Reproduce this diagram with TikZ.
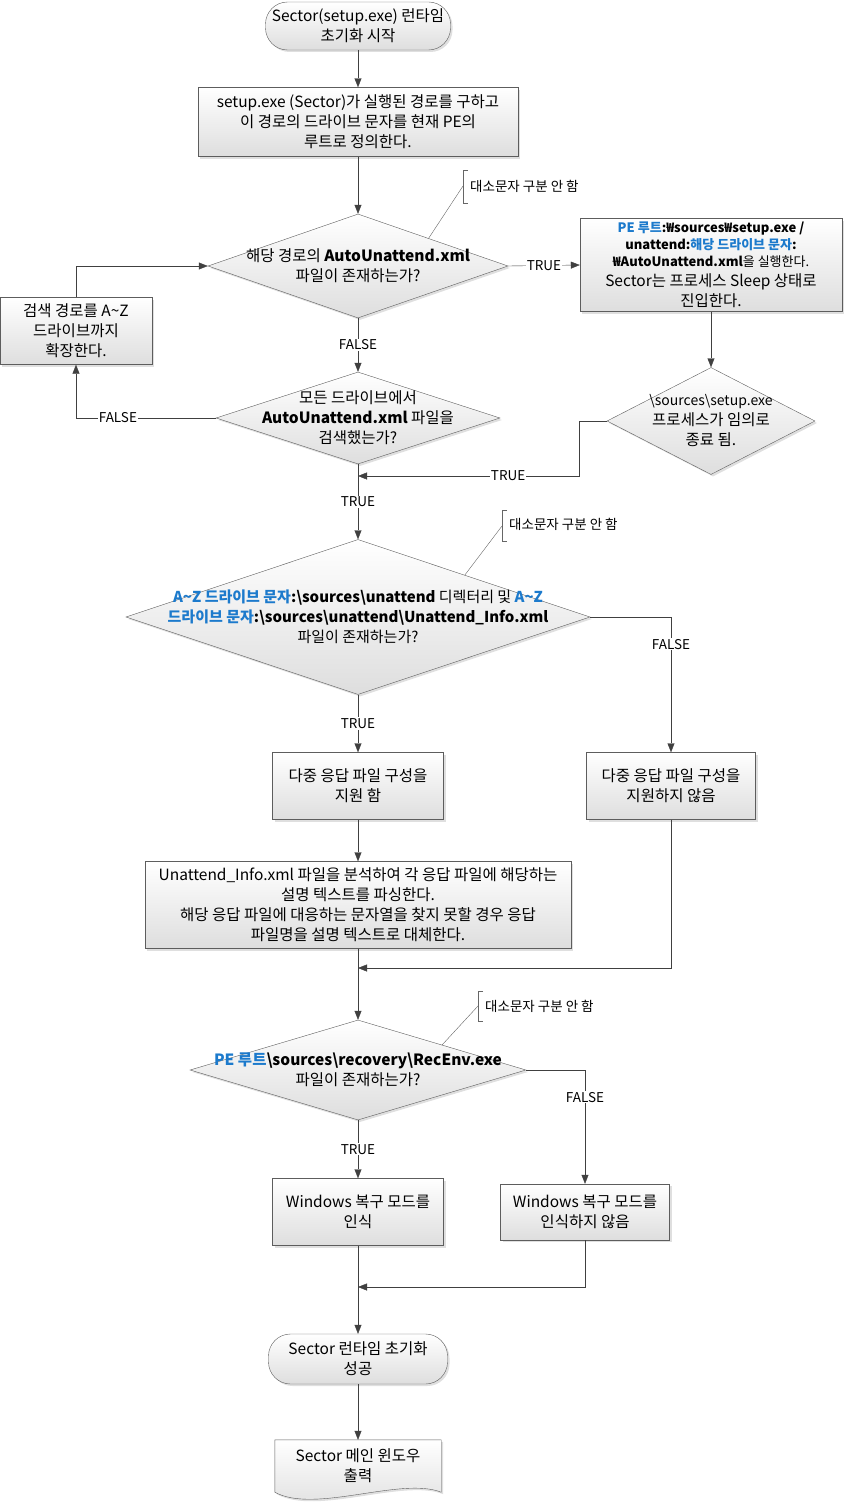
\documentclass[tikz,border=0pt]{standalone}
\usepackage{fontspec}
\setmainfont{Noto Sans CJK KR}
\usepackage{xcolor}
\usepackage{tikz}
\usetikzlibrary{shapes.geometric, arrows.meta, positioning, shadows, calc, backgrounds}
\definecolor{keyblue}{RGB}{28,122,204}
\definecolor{lineg}{RGB}{64,64,64}
\newcommand{\smb}{\fontsize{13}{16}\selectfont\bfseries}
\newcommand{\bs}{\textbackslash}

\tikzset{
  base/.style={draw=lineg!85, top color=white, bottom color=black!13,
    drop shadow={shadow xshift=2pt, shadow yshift=-2pt, opacity=0.25},
    font=\fontsize{15.5}{20}\selectfont, align=center},
  procbox/.style={base, rectangle, inner sep=2pt},
  termbox/.style={base, rectangle, rounded corners=22pt},
  decbox/.style={base, diamond, inner sep=0pt},
  dtext/.style={font=\fontsize{15.5}{20}\selectfont, align=center, inner sep=0pt},
  lbl/.style={fill=white, inner sep=1pt, font=\fontsize{13.5}{15}\selectfont},
  note/.style={font=\fontsize{13.5}{15}\selectfont, anchor=west, inner sep=1pt},
  flow/.style={draw=lineg, -{Triangle[length=9pt,width=7pt]}},
}

\begin{document}
\begin{tikzpicture}[x=1pt, y=-1pt]
\useasboundingbox (0,0) rectangle (844,1504);

% Boxes
\node[termbox, minimum width=185pt, minimum height=48pt] (start) at (358,26) {Sector(setup.exe) 런타임\\초기화 시작};
\node[procbox, minimum width=320pt, minimum height=69pt] (setpath) at (358,122) {setup.exe (Sector)가 실행된 경로를 구하고\\이 경로의 드라이브 문자를 현재 PE의\\루트로 정의한다.};

\node[decbox, minimum width=300pt, minimum height=104pt] (d1) at (358,266) {};
\node[dtext] (d1t) at (d1) {해당 경로의 \textbf{AutoUnattend.xml}\\파일이 존재하는가?};

\node[procbox, minimum width=262pt, minimum height=93pt] (runbox) at (711,265)
  {\smb\textcolor{keyblue}{PE 루트}:₩sources₩setup.exe /\\[-3pt]
   \smb unattend:\textcolor{keyblue}{해당 드라이브 문자}:\\[-3pt]
   \smb ₩AutoUnattend.xml{\mdseries 을 실행한다.}\\
   Sector는 프로세스 Sleep 상태로\\진입한다.};

\node[procbox, minimum width=152pt, minimum height=67pt] (extbox) at (76,331) {검색 경로를 A\textasciitilde Z\\드라이브까지\\확장한다.};

\node[decbox, minimum width=284pt, minimum height=92pt] (d2) at (358,418) {};
\node[dtext] (d2t) at (d2) {모든 드라이브에서\\\textbf{AutoUnattend.xml} 파일을\\검색했는가?};

\node[decbox, minimum width=208pt, minimum height=107pt] (d3) at (711,421) {};
\node[dtext] (d3t) at (d3) {{\fontsize{14}{16}\selectfont\bs sources\bs setup.exe}\\프로세스가 임의로\\종료 됨.};

\node[decbox, minimum width=464pt, minimum height=155pt] (d4) at (358,617) {};
\node[dtext, font=\fontsize{15}{20}\selectfont] (d4t) at (d4)
  {\textbf{\textcolor{keyblue}{A\textasciitilde Z 드라이브 문자}:\bs sources\bs unattend} 디렉터리 및 \textbf{\textcolor{keyblue}{A\textasciitilde Z}}\\
   \textbf{\textcolor{keyblue}{드라이브 문자}:\bs sources\bs unattend\bs Unattend\_Info.xml}\\
   파일이 존재하는가?};

\node[procbox, minimum width=171pt, minimum height=67pt] (multi) at (358,786) {다중 응답 파일 구성을\\지원 함};
\node[procbox, minimum width=169pt, minimum height=67pt] (nomulti) at (671,786) {다중 응답 파일 구성을\\지원하지 않음};

\node[procbox, minimum width=426pt, minimum height=87pt] (parse) at (358,905)
  {Unattend\_Info.xml 파일을 분석하여 각 응답 파일에 해당하는\\설명 텍스트를 파싱한다.\\해당 응답 파일에 대응하는 문자열을 찾지 못할 경우 응답\\파일명을 설명 텍스트로 대체한다.};

\node[decbox, minimum width=336pt, minimum height=100pt] (d5) at (358,1070) {};
\node[dtext] (d5t) at (d5) {\textbf{\textcolor{keyblue}{PE 루트}\bs sources\bs recovery\bs RecEnv.exe}\\파일이 존재하는가?};

\node[procbox, minimum width=171pt, minimum height=67pt] (rec) at (358,1212) {Windows 복구 모드를\\인식};
\node[procbox, minimum width=169pt, minimum height=56pt] (norec) at (585,1212) {Windows 복구 모드를\\인식하지 않음};

\node[termbox, minimum width=179pt, minimum height=50pt] (finish) at (358,1359) {Sector 런타임 초기화\\성공};

% Document shape
\node[dtext, minimum width=166pt, minimum height=52pt] (doc) at (358,1466) {Sector 메인 윈도우\\출력};
\begin{scope}[on background layer]
  \path[draw=lineg!85, top color=white, bottom color=black!13,
    drop shadow={shadow xshift=2pt, shadow yshift=-2pt, opacity=0.25}]
    (doc.north west) -- (doc.north east) -- (doc.south east)
    .. controls +(-40,-16) and +(40,22) .. (doc.south west) -- cycle;
\end{scope}

% Connectors
\draw[flow] (start) -- (setpath);
\draw[flow] (setpath) -- (d1);
\draw[flow] (d1.east) -- node[lbl] {TRUE} (runbox.west);
\draw[flow] (runbox) -- (d3);
\draw[flow] (d1) -- node[lbl] {FALSE} (d2);
\draw[flow] (d2.west) -| node[lbl, pos=0.35] {FALSE} (extbox.south);
\draw[flow] (extbox.north) |- (d1.west);

\coordinate (j1) at (358,476);
\draw[flow] (d3.west) -- ++(-28,0) |- node[lbl, pos=0.66] {TRUE} (j1);
\draw[flow] (d2) -- node[lbl] {TRUE} (d4);
\draw[flow] (d4) -- node[lbl] {TRUE} (multi);
\draw[flow] (d4.east) -| node[lbl, pos=0.6] {FALSE} (nomulti.north);
\draw[flow] (multi) -- (parse);
\draw[flow] (parse) -- (d5);

\coordinate (j2) at (358,968);
\draw[flow] (nomulti.south) |- (j2);
\draw[flow] (d5) -- node[lbl] {TRUE} (rec);
\draw[flow] (d5.east) -| node[lbl, pos=0.62] {FALSE} (norec.north);
\draw[flow] (rec) -- (finish);

\coordinate (j3) at (358,1287);
\draw[flow] (norec.south) |- (j3);
\draw[flow] (finish) -- (doc);

% Notes
\coordinate (b1) at (463,186);
\draw[lineg!80] (468,170) -- (463,170) -- (463,203) -- (468,203);
\node[note] (n1) at (469,186) {대소문자 구분 안 함};
\draw[lineg!80] ($(d1.north)!0.47!(d1.east)$) -- (b1);

\coordinate (b2) at (502,526);
\draw[lineg!80] (507,510) -- (502,510) -- (502,541) -- (507,541);
\node[note] (n2) at (508,524) {대소문자 구분 안 함};
\draw[lineg!80] ($(d4.north)!0.46!(d4.east)$) -- (b2);

\coordinate (b3) at (478,1006);
\draw[lineg!80] (483,991) -- (478,991) -- (478,1021) -- (483,1021);
\node[note] (n3) at (484,1006) {대소문자 구분 안 함};
\draw[lineg!80] ($(d5.north)!0.5!(d5.east)$) -- (b3);
\end{tikzpicture}
\end{document}
